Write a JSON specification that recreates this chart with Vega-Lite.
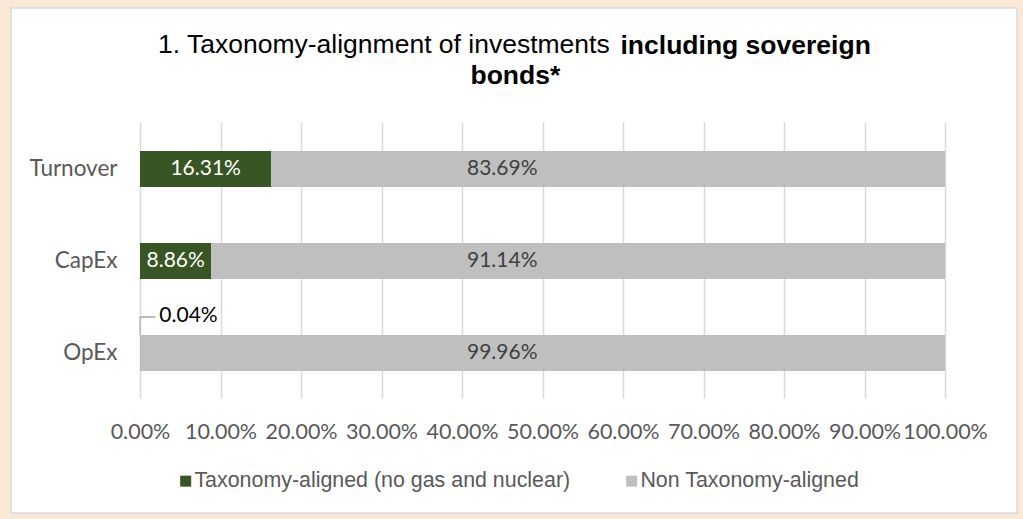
{
  "$schema": "https://vega.github.io/schema/vega-lite/v6.json",
  "width": 1006,
  "height": 505,
  "autosize": {"type": "none"},
  "padding": {"left": 11, "top": 8, "right": 6, "bottom": 6},
  "background": "#FBE9D8",
  "config": {"view": {"fill": "#FFFFFF", "stroke": "#D9D9D9", "strokeWidth": 1.5}},
  "title": {
    "text": "1. Taxonomy-alignment of investments",
    "anchor": "start",
    "frame": "group",
    "dx": 147,
    "offset": -71,
    "baseline": "alphabetic",
    "font": "Liberation Sans",
    "fontSize": 26.5,
    "fontWeight": "normal",
    "color": "#000000"
  },
  "data": {
    "values": [
      {"cat": "Turnover", "series": "Taxonomy-aligned (no gas and nuclear)", "value": 0.1631},
      {"cat": "Turnover", "series": "Non Taxonomy-aligned", "value": 0.8369},
      {"cat": "CapEx", "series": "Taxonomy-aligned (no gas and nuclear)", "value": 0.0886},
      {"cat": "CapEx", "series": "Non Taxonomy-aligned", "value": 0.9114},
      {"cat": "OpEx", "series": "Taxonomy-aligned (no gas and nuclear)", "value": 0.0004},
      {"cat": "OpEx", "series": "Non Taxonomy-aligned", "value": 0.9996}
    ]
  },
  "encoding": {
    "y": {
      "field": "cat",
      "type": "nominal",
      "sort": ["Turnover", "CapEx", "OpEx"],
      "scale": {"range": [115, 391], "paddingInner": 0.61, "paddingOuter": 0.305},
      "axis": {
        "orient": "left",
        "offset": -129,
        "domain": false,
        "ticks": false,
        "grid": false,
        "labelPadding": 23,
        "labelFont": "Lato",
        "labelFontSize": 22.5,
        "labelColor": "#595959",
        "title": "bonds*",
        "titleAngle": 0,
        "titleX": 330,
        "titleY": 75,
        "titleAlign": "left",
        "titleBaseline": "alphabetic",
        "titleFont": "Liberation Sans",
        "titleFontSize": 26.5,
        "titleFontWeight": "bold",
        "titleColor": "#000000"
      }
    }
  },
  "layer": [
    {
      "mark": {"type": "bar"},
      "encoding": {
        "x": {
          "field": "value",
          "type": "quantitative",
          "stack": "zero",
          "scale": {"domain": [0, 1], "range": [129, 934], "nice": false, "zero": true},
          "axis": {
            "orient": "bottom",
            "offset": -100,
            "values": [0, 0.1, 0.2, 0.3, 0.4, 0.5, 0.6, 0.7, 0.8, 0.9, 1],
            "format": ".2%",
            "domain": false,
            "ticks": false,
            "grid": true,
            "gridColor": "#D9D9D9",
            "gridWidth": 1.5,
            "labelPadding": 8,
            "labelFont": "Lato",
            "labelFontSize": 21.5,
            "labelColor": "#595959",
            "labelFlush": false,
            "labelOverlap": false,
            "title": "including sovereign",
            "titleX": 609,
            "titleY": -360,
            "titleAlign": "left",
            "titleBaseline": "alphabetic",
            "titleFont": "Liberation Sans",
            "titleFontSize": 26.5,
            "titleFontWeight": "bold",
            "titleColor": "#000000"
          }
        },
        "color": {
          "field": "series",
          "type": "nominal",
          "scale": {
            "domain": ["Taxonomy-aligned (no gas and nuclear)", "Non Taxonomy-aligned"],
            "range": ["#375623", "#BFBFBF"]
          },
          "legend": {
            "orient": "none",
            "legendX": 164,
            "legendY": 462,
            "direction": "horizontal",
            "title": null,
            "symbolType": "square",
            "symbolSize": 121,
            "symbolStrokeWidth": 0,
            "labelFont": "Liberation Sans",
            "labelFontSize": 21.4,
            "labelColor": "#595959",
            "labelOffset": -2,
            "columnPadding": 50,
            "labelLimit": 0,
            "padding": 0
          }
        },
        "order": {"field": "series", "sort": "descending"}
      }
    },
    {
      "transform": [{"filter": "datum.series == 'Taxonomy-aligned (no gas and nuclear)' && datum.value > 0.01"}],
      "mark": {"type": "text", "font": "Lato", "fontSize": 21, "color": "#FFFFFF", "baseline": "middle"},
      "encoding": {
        "x": {"field": "value", "type": "quantitative", "stack": "zero", "bandPosition": 0.5},
        "text": {"field": "value", "type": "quantitative", "format": ".2%"}
      }
    },
    {
      "transform": [{"filter": "datum.series == 'Non Taxonomy-aligned'"}],
      "mark": {"type": "text", "font": "Lato", "fontSize": 21, "color": "#404040", "baseline": "middle"},
      "encoding": {
        "x": {"datum": 0.45, "type": "quantitative"},
        "text": {"field": "value", "type": "quantitative", "format": ".2%"}
      }
    },
    {
      "transform": [{"filter": "datum.series == 'Taxonomy-aligned (no gas and nuclear)' && datum.value < 0.01"}],
      "mark": {"type": "text", "font": "Lato", "fontSize": 21, "color": "#000000", "align": "left", "baseline": "middle", "dx": 19, "yOffset": -37},
      "encoding": {
        "x": {"field": "value", "type": "quantitative"},
        "text": {"field": "value", "type": "quantitative", "format": ".2%"}
      }
    },
    {
      "transform": [{"filter": "datum.series == 'Taxonomy-aligned (no gas and nuclear)' && datum.value < 0.01"}],
      "mark": {"type": "tick", "orient": "vertical", "size": 18, "thickness": 1.5, "color": "#A6A6A6", "yOffset": -27},
      "encoding": {
        "x": {"datum": 0, "type": "quantitative"}
      }
    },
    {
      "transform": [{"filter": "datum.series == 'Taxonomy-aligned (no gas and nuclear)' && datum.value < 0.01"}],
      "mark": {"type": "rule", "color": "#A6A6A6", "strokeWidth": 1.5, "yOffset": -36},
      "encoding": {
        "x": {"datum": 0, "type": "quantitative"},
        "x2": {"datum": 0.019}
      }
    }
  ]
}
